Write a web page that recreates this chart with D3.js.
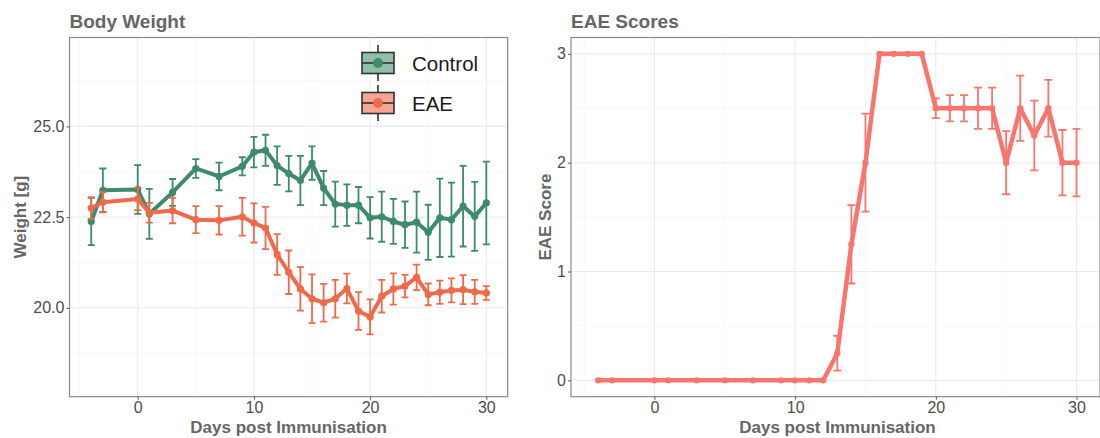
<!DOCTYPE html>
<html>
<head>
<meta charset="utf-8">
<script src="https://cdn.jsdelivr.net/npm/d3@7"></script>
<style>
  body { margin: 0; background: #fff; }
  svg { font-family: "Liberation Sans", Arial, sans-serif; }
  .grid-major { stroke: #ebebeb; stroke-width: 1.1; }
  .grid-minor { stroke: #f3f3f3; stroke-width: 0.7; }
  .tick text { fill: #4d4d4d; font-size: 16px; }
  .tick line { stroke: #555; }
  .domain { display: none; }
  .ptitle { fill: #666; font-size: 19px; font-weight: bold; }
  .atitle { fill: #666; font-size: 17px; font-weight: bold; }
</style>
</head>
<body>
<svg id="chart" width="1100" height="438"></svg>
<script>
// days measured (same for both panels)
const days = [-4, -3, 0, 1, 3, 5, 7, 9, 10, 11, 12, 13, 14, 15, 16, 17, 18, 19, 20,
  21, 22, 23, 24, 25, 26, 27, 28, 29, 30];

// body weight [g], mean and SE
const controlMean = [22.38, 23.24, 23.26, 22.59, 23.18, 23.84, 23.62, 23.90, 24.29, 24.34,
  23.92, 23.70, 23.51, 23.99, 23.30, 22.86, 22.83, 22.83, 22.48, 22.51, 22.38, 22.29,
  22.36, 22.08, 22.48, 22.43, 22.80, 22.52, 22.89];
const controlSE = [0.65, 0.60, 0.67, 0.69, 0.37, 0.26, 0.38, 0.25, 0.42, 0.43,
  0.53, 0.49, 0.68, 0.46, 0.47, 0.62, 0.57, 0.50, 0.57, 0.69, 0.62, 0.64,
  0.84, 0.76, 1.08, 1.02, 1.11, 0.95, 1.14];
const eaeMean = [22.75, 22.91, 23.00, 22.62, 22.68, 22.43, 22.41, 22.51, 22.34, 22.20,
  21.47, 20.98, 20.52, 20.25, 20.14, 20.25, 20.53, 19.91, 19.75, 20.32, 20.52, 20.60,
  20.84, 20.37, 20.43, 20.48, 20.50, 20.44, 20.41];
const eaeSE = [0.30, 0.28, 0.31, 0.27, 0.35, 0.37, 0.39, 0.52, 0.54, 0.58,
  0.56, 0.60, 0.60, 0.67, 0.52, 0.52, 0.41, 0.52, 0.48, 0.45, 0.43, 0.31,
  0.35, 0.30, 0.32, 0.33, 0.40, 0.33, 0.19];

// EAE clinical score, mean and SE
const scoreMean = [0, 0, 0, 0, 0, 0, 0, 0, 0, 0, 0, 0.25, 1.25, 2.0, 3, 3, 3, 3, 2.5,
  2.5, 2.5, 2.5, 2.5, 2.0, 2.5, 2.25, 2.5, 2.0, 2.0];
const scoreSE = [0, 0, 0, 0, 0, 0, 0, 0, 0, 0, 0, 0.16, 0.36, 0.45, 0, 0, 0, 0, 0.09,
  0.12, 0.12, 0.19, 0.19, 0.29, 0.30, 0.32, 0.26, 0.30, 0.31];

const groups = ["Control", "EAE"];
const weightTicks = [20.0, 22.5, 25.0];
const weightMinor = [18.75, 21.25, 23.75, 26.25];
const scoreTicks = [0, 1, 2, 3];
const scoreMinor = [0.5, 1.5, 2.5];
const dayTicks = [0, 10, 20, 30];
const dayMinor = [-5, 5, 15, 25];

const colors = { Control: "#3e8a6d", EAE: "#ee6a4b" };
const keyFill = { Control: "#8fbea9", EAE: "#f6a595" };
const scoreColor = "#f8766d";

const svg = d3.select("#chart");

function panel(p) {
  const g = svg.append("g");
  const x = d3.scaleLinear().domain(p.xdom).range([p.x0, p.x1]);
  const y = d3.scaleLinear().domain(p.ydom).range([p.y1, p.y0]);

  // grid
  g.selectAll(".vmin").data(dayMinor).join("line").attr("class", "grid-minor")
    .attr("x1", d => x(d)).attr("x2", d => x(d)).attr("y1", p.y0).attr("y2", p.y1);
  g.selectAll(".hmin").data(p.yminor).join("line").attr("class", "grid-minor")
    .attr("x1", p.x0).attr("x2", p.x1).attr("y1", d => y(d)).attr("y2", d => y(d));
  g.selectAll(".vmaj").data(dayTicks).join("line").attr("class", "grid-major")
    .attr("x1", d => x(d)).attr("x2", d => x(d)).attr("y1", p.y0).attr("y2", p.y1);
  g.selectAll(".hmaj").data(p.yticks).join("line").attr("class", "grid-major")
    .attr("x1", p.x0).attr("x2", p.x1).attr("y1", d => y(d)).attr("y2", d => y(d));

  // border
  g.append("rect").attr("x", p.x0).attr("y", p.y0)
    .attr("width", p.x1 - p.x0).attr("height", p.y1 - p.y0)
    .attr("fill", "none").attr("stroke", "#8a8a8a").attr("stroke-width", 1.2);

  // axes
  g.append("g").attr("transform", `translate(0,${p.y1})`)
    .call(d3.axisBottom(x).tickValues(dayTicks).tickSize(3).tickPadding(2));
  g.append("g").attr("transform", `translate(${p.x0},0)`)
    .call(d3.axisLeft(y).tickValues(p.yticks).tickSize(3).tickPadding(2)
      .tickFormat(p.yfmt));

  svg.append("text").attr("class", "ptitle").attr("x", p.x0).attr("y", 28).text(p.title);
  svg.append("text").attr("class", "atitle")
    .attr("x", (p.x0 + Math.min(p.x1, 1100)) / 2 + p.xtOff).attr("y", 433)
    .attr("text-anchor", "middle").text("Days post Immunisation");
  svg.append("text").attr("class", "atitle")
    .attr("transform", `translate(${p.ytx},${(p.y0 + p.y1) / 2}) rotate(-90)`)
    .attr("text-anchor", "middle").text(p.ytitle);

  return { g, x, y };
}

function series(g, x, y, mean, se, color, lw, r, cap) {
  const rows = days.map((d, i) => ({ day: d, m: mean[i], se: se[i] }));
  const eb = g.append("g").attr("stroke", color).attr("stroke-width", 1.8).attr("fill", "none");
  rows.filter(d => d.se > 0).forEach(d => {
    const lo = y(d.m - d.se), hi = y(d.m + d.se), cx = x(d.day);
    eb.append("path").attr("d",
      `M${cx - cap},${hi}H${cx + cap}M${cx},${hi}V${lo}M${cx - cap},${lo}H${cx + cap}`);
  });
  g.append("path").datum(rows)
    .attr("fill", "none").attr("stroke", color).attr("stroke-width", lw)
    .attr("stroke-linejoin", "round")
    .attr("d", d3.line().x(d => x(d.day)).y(d => y(d.m)));
  g.append("g").selectAll("circle").data(rows).join("circle")
    .attr("cx", d => x(d.day)).attr("cy", d => y(d.m)).attr("r", r).attr("fill", color);
}

// ---- Body weight ----
const left = panel({
  x0: 69.5, x1: 507.7, y0: 37.5, y1: 396.7,
  xdom: [-5.87, 31.84], ydom: [17.55, 27.45],
  yticks: weightTicks, yminor: weightMinor, yfmt: d3.format(".1f"),
  title: "Body Weight", ytitle: "Weight [g]", ytx: 26, xtOff: 0
});
series(left.g, left.x, left.y, controlMean, controlSE, colors.Control, 4, 3.6, 3.5);
series(left.g, left.x, left.y, eaeMean, eaeSE, colors.EAE, 4, 3.6, 3.5);

// legend
const lg = svg.append("g");
groups.forEach((k, i) => {
  const cy = 63 + i * 40, cx = 378;
  lg.append("line").attr("x1", cx).attr("x2", cx).attr("y1", cy - 18).attr("y2", cy + 18)
    .attr("stroke", "#333").attr("stroke-width", 1.6);
  lg.append("rect").attr("x", cx - 16).attr("y", cy - 10.5).attr("width", 32).attr("height", 21)
    .attr("fill", keyFill[k]).attr("stroke", "#333").attr("stroke-width", 1.6);
  lg.append("line").attr("x1", cx - 16).attr("x2", cx + 16).attr("y1", cy).attr("y2", cy)
    .attr("stroke", "#333").attr("stroke-width", 1.6);
  lg.append("circle").attr("cx", cx).attr("cy", cy).attr("r", 5).attr("fill", colors[k]);
  lg.append("text").attr("x", 412).attr("y", cy + 7.5).attr("font-size", 20.5)
    .attr("fill", "#1a1a1a").text(k);
});

// ---- EAE scores ----
const right = panel({
  x0: 571, x1: 1100, y0: 37.5, y1: 396.7,
  xdom: [-5.93, 31.67], ydom: [-0.15, 3.15],
  yticks: scoreTicks, yminor: scoreMinor, yfmt: d3.format("d"),
  title: "EAE Scores", ytitle: "EAE Score", ytx: 551, xtOff: 2
});
series(right.g, right.x, right.y, scoreMean, scoreSE, scoreColor, 4.5, 3.2, 4);
</script>
</body>
</html>
